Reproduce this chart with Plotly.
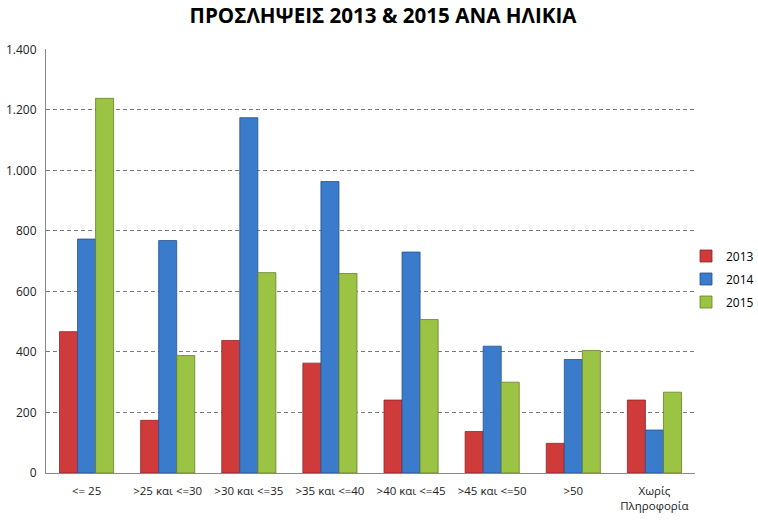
import plotly.graph_objects as go

categories = ["<= 25", ">25 και <=30", ">30 και <=35", ">35 και <=40",
              ">40 και <=45", ">45 και <=50", ">50", "Χωρίς<br>Πληροφορία"]
series_names = ["2013", "2014", "2015"]
values_2013 = [467, 174, 438, 363, 241, 137, 98, 241]
values_2014 = [773, 768, 1174, 963, 730, 419, 375, 142]
values_2015 = [1238, 388, 662, 659, 507, 300, 405, 267]
tick_vals = [0, 200, 400, 600, 800, 1000, 1200, 1400]
tick_text = ["0", "200", "400", "600", "800", "1.000", "1.200", "1.400"]

colors = ["#CF3B3B", "#3A7BCB", "#9CC444"]
edge = ["#8E2424", "#24528E", "#667F2A"]

fig = go.Figure()
for name, vals, c, e in zip(series_names, [values_2013, values_2014, values_2015], colors, edge):
    fig.add_trace(go.Bar(
        x=categories, y=vals, name=name,
        marker=dict(color=c, line=dict(color=e, width=0.8)),
        legendgroup=name,
    ))

fig.update_layout(
    width=758, height=521,
    paper_bgcolor="white", plot_bgcolor="white",
    margin=dict(l=46, r=63, t=49, b=48, autoexpand=False),
    barmode="group", bargap=0.333, bargroupgap=0,
    font=dict(family="Open Sans, DejaVu Sans, sans-serif", size=11, color="#222222"),
    title=dict(text="<b>ΠΡΟΣΛΗΨΕΙΣ 2013 & 2015 ΑΝΑ ΗΛΙΚΙΑ</b>",
               x=383/758, xanchor="center", xref="container",
               y=1 - 9/521, yanchor="top", yref="container",
               font=dict(size=20.6, color="black", family="Open Sans, DejaVu Sans, sans-serif")),
    legend=dict(xref="container", yref="container", x=686/758, xanchor="left",
                y=1 - 279/521, yanchor="middle",
                font=dict(size=12, color="black"), tracegroupgap=4,
                itemwidth=30, bgcolor="rgba(0,0,0,0)"),
    showlegend=True,
)
fig.update_xaxes(showline=True, linecolor="#888888", linewidth=1, automargin=False,
                 tickfont=dict(size=11.5, color="#222222"), ticks="", showgrid=False,
                 ticklabelstandoff=7)
fig.update_yaxes(range=[0, 1401], tickvals=tick_vals, ticktext=tick_text, automargin=False,
                 showline=True, linecolor="#888888", linewidth=1,
                 gridcolor="#7a7a7a", griddash="4px,3px", gridwidth=1,
                 zeroline=False, ticks="", ticklabelstandoff=6,
                 tickfont=dict(size=12, color="#222222"))

fig.write_html("out.html", config={"displayModeBar": False},
               post_script="document.body.style.margin='0';")
